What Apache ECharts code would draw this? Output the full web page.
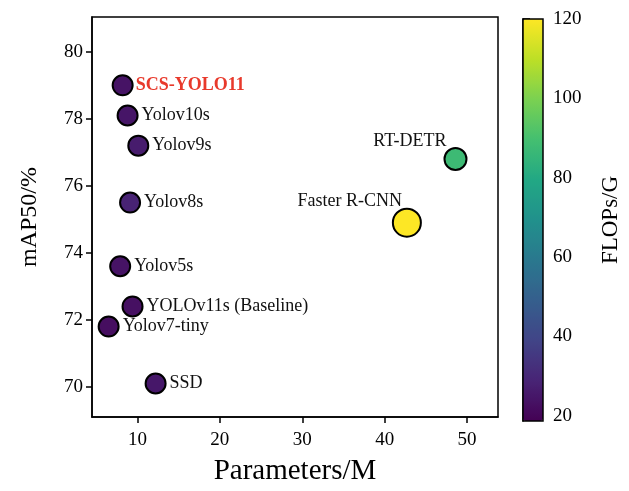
<!DOCTYPE html>
<html>
<head>
<meta charset="utf-8">
<script src="https://cdn.jsdelivr.net/npm/echarts@6/dist/echarts.min.js"></script>
<style>html,body{margin:0;padding:0;background:#fff;}#c{width:629px;height:491px;}</style>
</head>
<body>
<div id="c"></div>
<script>
// ---- data ----
const models = ['SCS-YOLO11','Yolov10s','Yolov9s','Yolov8s','Yolov5s','YOLOv11s (Baseline)','Yolov7-tiny','SSD','RT-DETR','Faster R-CNN'];
const paramsM = [8.2, 8.8, 10.1, 9.1, 7.9, 9.4, 6.5, 12.2, 48.6, 42.7];
const mAP50 = [79.0, 78.1, 77.2, 75.5, 73.6, 72.4, 71.8, 70.1, 76.8, 74.9];
const flopsG = [24.0, 24.4, 26.4, 28.6, 24.0, 23.0, 22.5, 25.0, 87.6, 120.0];
const xTicks = [10, 20, 30, 40, 50];
const yTicks = [70, 72, 74, 76, 78, 80];
const cbTicks = [20, 40, 60, 80, 100, 120];

// ---- styles ----
const FONT = '"Liberation Serif", "Times New Roman", serif';
const viridis = ['#440154','#482475','#414487','#355f8d','#2a788e','#21918c','#22a884','#44bf70','#7ad151','#bddf26','#fde725'];
const labelStyles = {
  'SCS-YOLO11': {position: 'right', distance: 2, color: '#e8392b', fontWeight: 'bold'},
  'RT-DETR': {position: [3, 3], align: 'right', verticalAlign: 'bottom'},
  'Faster R-CNN': {position: [10, 3], align: 'right', verticalAlign: 'bottom'}
};
const sizeStyles = {'Faster R-CNN': 28, 'RT-DETR': 22};

const data = models.map((m, i) => {
  const item = {name: m, value: [paramsM[i], mAP50[i], flopsG[i]]};
  if (labelStyles[m]) item.label = labelStyles[m];
  if (sizeStyles[m]) item.symbolSize = sizeStyles[m];
  return item;
});

const chart = echarts.init(document.getElementById('c'), null, {renderer: 'canvas'});
chart.setOption({
  animation: false,
  backgroundColor: '#fff',
  textStyle: {fontFamily: FONT},
  grid: [
    {left: 92, top: 17, width: 406, height: 400, containLabel: false, outerBoundsMode: 'none', show: true, borderColor: '#000', borderWidth: 1.5, backgroundColor: 'transparent', z: 10},
    {left: 523, top: 19, width: 20, height: 402, containLabel: false, outerBoundsMode: 'none', show: true, borderColor: '#000', borderWidth: 1.5, backgroundColor: 'transparent', z: 10}
  ],
  xAxis: [
    {
      type: 'value', gridIndex: 0, min: 4.48, max: 53.76,
      name: 'Parameters/M', nameLocation: 'middle', nameGap: 40,
      nameTextStyle: {fontFamily: FONT, fontSize: 29, color: '#000'},
      axisLine: {show: true, onZero: false, lineStyle: {color: '#000', width: 1.5}},
      axisTick: {show: true, length: 6, lineStyle: {color: '#000', width: 1.5}, customValues: xTicks},
      axisLabel: {fontFamily: FONT, fontSize: 19, color: '#000', margin: 14, customValues: xTicks},
      splitLine: {show: false}
    },
    {type: 'value', gridIndex: 1, min: 0, max: 1, show: false}
  ],
  yAxis: [
    {
      type: 'value', gridIndex: 0, min: 69.1, max: 81.04,
      name: 'mAP50/%', nameLocation: 'middle', nameGap: 50,
      nameTextStyle: {fontFamily: FONT, fontSize: 24, color: '#000'},
      axisLine: {show: true, onZero: false, lineStyle: {color: '#000', width: 1.5}},
      axisTick: {show: true, length: 6, lineStyle: {color: '#000', width: 1.5}, customValues: yTicks},
      axisLabel: {fontFamily: FONT, fontSize: 19, color: '#000', margin: 9, customValues: yTicks},
      splitLine: {show: false}
    },
    {
      type: 'value', gridIndex: 1, min: 18.7, max: 120, position: 'right',
      name: 'FLOPs/G', nameLocation: 'middle', nameGap: 56, nameRotate: 90,
      nameTextStyle: {fontFamily: FONT, fontSize: 23, color: '#000'},
      axisLine: {show: true, lineStyle: {color: '#000', width: 1.5}},
      axisTick: {show: true, length: 7, lineStyle: {color: '#000', width: 1.5}, customValues: cbTicks},
      axisLabel: {fontFamily: FONT, fontSize: 19, color: '#000', margin: 10, customValues: cbTicks},
      splitLine: {show: false}
    }
  ],
  visualMap: {
    type: 'continuous', seriesIndex: 0, dimension: 2,
    min: 18.7, max: 120, calculable: false, realtime: false, hoverLink: false,
    orient: 'vertical', left: 523, top: 19, itemWidth: 20, itemHeight: 402,
    padding: 0, text: null, showLabel: false,
    inRange: {color: viridis}
  },
  series: [{
    type: 'scatter', xAxisIndex: 0, yAxisIndex: 0,
    symbol: 'circle', symbolSize: 20,
    itemStyle: {borderColor: '#000', borderWidth: 2, opacity: 1},
    label: {show: true, position: 'right', distance: 3, formatter: '{b}', fontFamily: FONT, fontSize: 18, color: '#111'},
    emphasis: {disabled: true},
    data: data
  }]
});
</script>
</body>
</html>
